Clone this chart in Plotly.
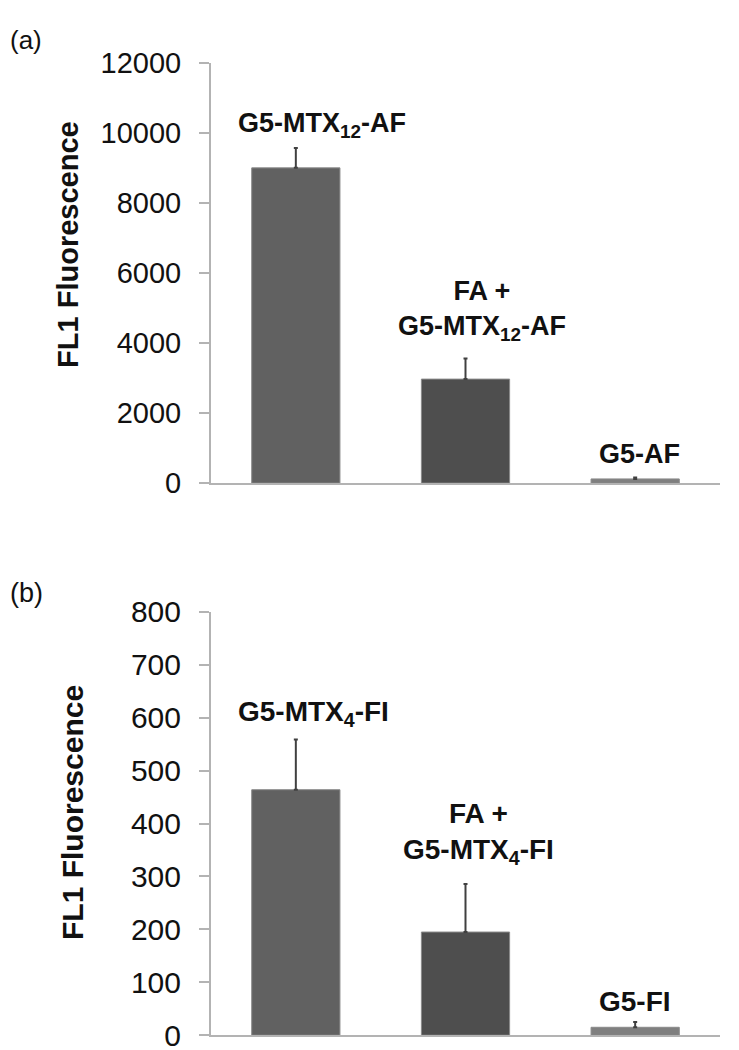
import plotly.graph_objects as go

# categories / values
cats = ["c1", "c2", "c3"]
bar_colors = ["#616161", "#4e4e4e", "#7f7f7f"]

labels_a = ["G5-MTX<sub>12</sub>-AF", "FA +<br>G5-MTX<sub>12</sub>-AF", "G5-AF"]
mean_a = [9000, 2970, 120]
err_a = [570, 590, 40]

labels_b = ["G5-MTX<sub>4</sub>-FI", "FA +<br>G5-MTX<sub>4</sub>-FI", "G5-FI"]
mean_b = [464, 195, 15]
err_b = [95, 91, 10]

ticks_a = [0, 2000, 4000, 6000, 8000, 10000, 12000]
ticks_b = [0, 100, 200, 300, 400, 500, 600, 700, 800]

FONT = "Liberation Sans, Arial, sans-serif"
AXIS_GREY = "#b3b3b3"
TXT = "#111111"

dom_a = [1 - 473 / 1050, 1 - 39 / 1050]
dom_b = [1 - 1043 / 1050, 1 - 606 / 1050]

fig = go.Figure()

for vals, errs, xa, ya in [(mean_a, err_a, "x", "y"), (mean_b, err_b, "x2", "y2")]:
    fig.add_trace(go.Bar(
        x=cats, y=vals, xaxis=xa, yaxis=ya,
        marker=dict(color=bar_colors, line=dict(color="#8a8a8a", width=1)),
        error_y=dict(type="data", array=errs, symmetric=False, arrayminus=[0, 0, 0],
                     color="#404040", thickness=2, width=2),
        showlegend=False,
    ))

xstyle = dict(domain=[203 / 739, 712 / 739], showticklabels=False, ticks="",
              showline=True, linecolor=AXIS_GREY, linewidth=2, showgrid=False,
              zeroline=False)
ystyle = dict(showline=True, linecolor=AXIS_GREY, linewidth=2, ticks="outside",
              ticklen=10, tickwidth=2, tickcolor=AXIS_GREY, showgrid=False,
              zeroline=False, ticklabelstandoff=12)

fig.update_layout(
    width=739, height=1050,
    margin=dict(l=0, r=0, t=0, b=0),
    paper_bgcolor="white", plot_bgcolor="white",
    bargap=0.48,
    xaxis=dict(**xstyle, anchor="y"),
    xaxis2=dict(**xstyle, anchor="y2"),
    yaxis=dict(**ystyle, domain=dom_a, range=[0, 12000], tickvals=ticks_a,
               ticktext=[str(t) for t in ticks_a], anchor="x",
               tickfont=dict(family=FONT, size=29, color=TXT)),
    yaxis2=dict(**ystyle, domain=dom_b, range=[0, 800], tickvals=ticks_b,
                ticktext=[str(t) for t in ticks_b], anchor="x2",
                tickfont=dict(family=FONT, size=30, color=TXT)),
    font=dict(family=FONT, color=TXT),
)

# per-label nudges (px) to sit the labels like the original text boxes
xshift_a = [26, 16, 4]
yshift_a = [4, 11, 7]
xshift_b = [18, 13, 0]
yshift_b = [6, 13, 3]

annos = []
for labels, vals, errs, xr, yr, xs, ys, fs in [
        (labels_a, mean_a, err_a, "x", "y", xshift_a, yshift_a, 27),
        (labels_b, mean_b, err_b, "x2", "y2", xshift_b, yshift_b, 28)]:
    for c, lab, v, e, dx, dy in zip(cats, labels, vals, errs, xs, ys):
        annos.append(dict(x=c, y=v + e, xref=xr, yref=yr, text="<b>" + lab + "</b>",
                          showarrow=False, xanchor="center", yanchor="bottom",
                          yshift=dy, xshift=dx,
                          font=dict(family=FONT, size=fs, color=TXT)))


def py(dom, vmax, v):
    return dom[0] + v / vmax * (dom[1] - dom[0])


# panel letters and y titles
annos += [
    dict(x=0, y=1 - 15 / 1050, xref="paper", yref="paper", text="(a)", showarrow=False,
         xanchor="left", yanchor="middle", font=dict(family=FONT, size=26, color=TXT)),
    dict(x=0, y=1 - 586 / 1050, xref="paper", yref="paper", text="(b)", showarrow=False,
         xanchor="left", yanchor="middle", font=dict(family=FONT, size=27, color=TXT)),
    dict(x=60 / 739, y=py(dom_a, 12000, 6800), xref="paper", yref="paper",
         text="<b>FL1 Fluorescence</b>", textangle=-90, showarrow=False,
         xanchor="center", yanchor="middle", font=dict(family=FONT, size=29, color=TXT)),
    dict(x=64 / 739, y=py(dom_b, 800, 420), xref="paper", yref="paper",
         text="<b>FL1 Fluorescence</b>", textangle=-90, showarrow=False,
         xanchor="center", yanchor="middle", font=dict(family=FONT, size=30, color=TXT)),
]
fig.update_layout(annotations=annos)

fig.write_html("out.html")
